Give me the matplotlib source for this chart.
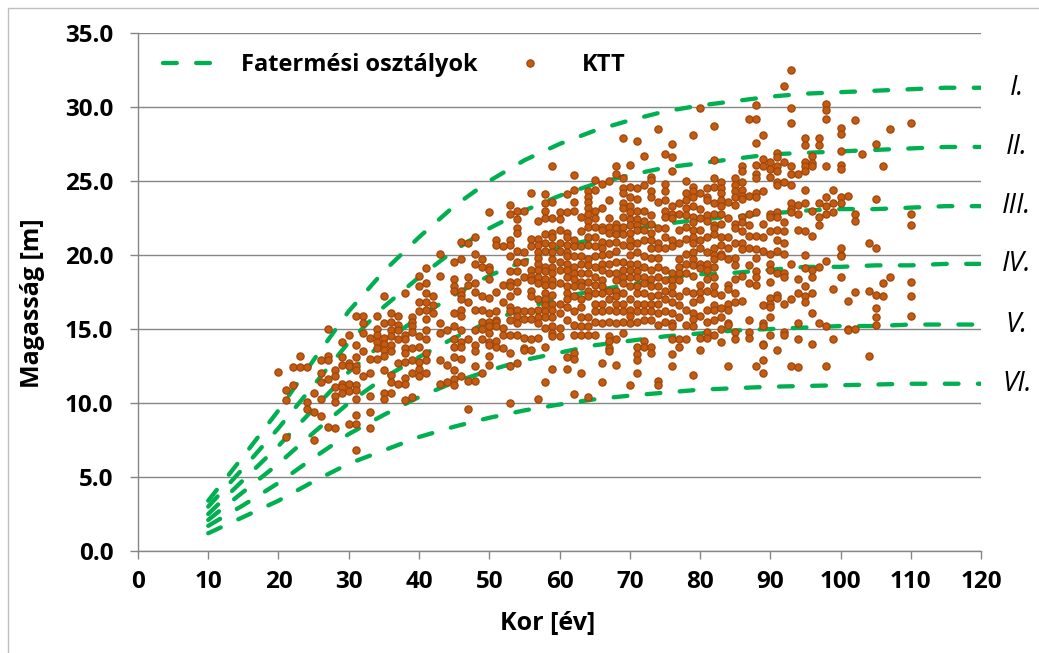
import numpy as np
import matplotlib.pyplot as plt
from matplotlib.patches import Rectangle

plt.rcParams['font.family'] = ['Open Sans', 'DejaVu Sans']

# Fatermési osztályok (I.-VI.) - magasság a kor függvényében
fk_kor = [10, 15, 20, 25, 30, 35, 40, 45, 50, 55, 60, 65, 70, 75, 80, 85, 90, 95, 100, 105, 110, 115, 120]
fk_I = [3.4, 6.4, 9.5, 12.9, 16.2, 18.9, 21.2, 23.3, 25.0, 26.4, 27.5, 28.4, 29.1, 29.7, 30.1, 30.4, 30.7, 30.9, 31.0, 31.1, 31.2, 31.3, 31.3]
fk_II = [3.0, 5.6, 8.3, 11.2, 14.1, 16.5, 18.5, 20.3, 21.8, 23.0, 24.0, 24.8, 25.4, 25.9, 26.2, 26.5, 26.8, 26.9, 27.0, 27.1, 27.2, 27.3, 27.3]
fk_III = [2.5, 4.8, 7.1, 9.6, 12.1, 14.1, 15.8, 17.3, 18.6, 19.6, 20.5, 21.1, 21.7, 22.1, 22.4, 22.6, 22.8, 23.0, 23.1, 23.1, 23.2, 23.3, 23.3]
fk_IV = [2.1, 4.0, 5.9, 8.0, 10.0, 11.7, 13.1, 14.4, 15.5, 16.4, 17.1, 17.6, 18.0, 18.4, 18.7, 18.8, 19.0, 19.2, 19.2, 19.3, 19.3, 19.4, 19.4]
fk_V = [1.7, 3.1, 4.6, 6.3, 7.9, 9.2, 10.4, 11.4, 12.2, 12.9, 13.4, 13.9, 14.2, 14.5, 14.7, 14.9, 15.0, 15.1, 15.2, 15.2, 15.3, 15.3, 15.3]
fk_VI = [1.2, 2.3, 3.4, 4.7, 5.9, 6.8, 7.7, 8.4, 9.0, 9.5, 9.9, 10.25, 10.5, 10.7, 10.9, 11.0, 11.1, 11.15, 11.2, 11.25, 11.3, 11.3, 11.3]
fk_nevek = ['I.', 'II.', 'III.', 'IV.', 'V.', 'VI.']

# KTT mérések: kor [év] és az adott korhoz tartozó magasságok [m]
ktt_kor = [20, 21, 22, 23, 24, 25, 26, 27, 28, 29,
           30, 31, 32, 33, 34, 35, 36, 37, 38, 39,
           40, 41, 42, 43, 44, 45, 46, 47, 48, 49,
           50, 51, 52, 53, 54, 55, 56, 57, 58, 59,
           60, 61, 62, 63, 64, 65, 66, 67, 68, 69,
           70, 71, 72, 73, 74, 75, 76, 77, 78, 79,
           80, 81, 82, 83, 84, 85, 86, 87, 88, 89,
           90, 91, 92, 93, 94, 95, 96, 97, 98, 99,
           100, 101, 102, 103, 104, 105, 106, 107, 110]
ktt_magassag = [
    [12.1],
    [10.9, 10.2, 7.7],
    [11.2, 12.4],
    [12.4, 13.2],
    [12.4, 10.1, 9.6],
    [10.7, 9.4, 7.5],
    [12.9, 12.0, 11.4, 10.3, 9.1],
    [15.0, 13.2, 12.9, 11.6, 8.4],
    [12.2, 11.8, 11.1, 10.5, 10.1, 8.3],
    [14.1, 13.1, 12.6, 11.3, 11.1, 10.7],
    [14.6, 12.7, 12.5, 11.3, 10.8, 8.6],
    [15.9, 13.9, 13.1, 12.5, 12.2, 11.2, 10.9, 10.3, 9.2, 8.6, 6.8],
    [15.9, 15.4, 14.7, 13.5, 11.8],
    [14.4, 13.0, 12.0, 10.5, 9.4, 8.3],
    [15.9, 15.0, 14.6, 14.1, 13.7, 13.0],
    [17.2, 15.4, 14.4, 14.0, 13.6, 13.2, 12.2, 10.7, 10.3],
    [16.1, 15.5, 14.9, 14.5, 13.9, 13.5, 11.9, 11.4, 10.7],
    [15.9, 15.3, 14.9, 14.3, 12.7, 11.3],
    [17.4, 14.6, 14.3, 13.7, 13.4, 12.8, 11.7, 11.3, 10.2],
    [15.8, 15.5, 15.2, 14.8, 13.7, 12.9, 12.0, 10.4],
    [18.6, 17.9, 16.8, 16.2, 14.5, 13.8, 12.8, 12.3, 11.8],
    [19.1, 18.1, 17.4, 16.8, 16.3, 15.7, 14.9, 14.3, 13.4, 12.9, 12.0],
    [17.2, 16.6, 16.1],
    [20.1, 18.6, 15.4, 14.7, 12.9, 11.3],
    [14.9, 12.6, 11.4],
    [19.5, 18.4, 17.9, 17.6, 16.1, 15.2, 14.3, 13.8, 13.1, 12.2, 11.6, 11.2],
    [20.9, 19.7, 17.6, 17.3, 17.0, 16.3, 15.9, 14.9, 14.1, 13.8, 13.0, 11.8],
    [20.8, 18.5, 18.0, 16.8, 14.3, 11.5, 9.6],
    [21.2, 20.1, 19.4, 18.1, 17.5, 16.3, 14.9, 13.9, 13.5, 12.5, 11.5],
    [19.7, 19.2, 17.2, 16.3, 15.5, 15.0, 14.3, 12.0],
    [22.9, 19.2, 19.0, 18.4, 17.1, 16.1, 15.5, 15.2, 14.7, 14.1, 13.9, 13.2, 12.6],
    [21.0, 20.7, 17.5, 16.2, 15.6, 15.5, 15.2, 14.2, 13.8],
    [20.6, 18.0, 16.8, 15.1, 14.6, 13.7],
    [23.4, 22.8, 21.0, 20.7, 19.9, 18.9, 18.2, 17.9, 17.2, 16.5, 16.2, 15.6, 14.6, 13.4, 12.5, 10.0],
    [23.0, 22.4, 21.8, 21.5, 20.3, 19.5, 18.9, 18.2, 17.6, 16.3, 15.9, 15.4, 14.6, 12.7],
    [23.0, 20.2, 19.5, 18.5, 16.2, 15.7, 14.4, 13.7, 13.6],
    [24.2, 21.1, 20.6, 19.0, 18.6, 18.3, 17.6, 17.2, 16.2, 15.7, 14.3, 13.6],
    [22.3, 21.1, 20.7, 20.2, 19.8, 19.4, 19.0, 18.5, 18.1, 17.0, 16.3, 15.8, 15.4, 14.4, 10.3],
    [24.1, 23.5, 23.0, 22.5, 21.4, 20.8, 20.3, 19.2, 18.9, 18.4, 18.0, 17.4, 17.0, 16.6, 16.2, 15.8, 15.1, 13.8, 11.4],
    [26.0, 23.6, 22.5, 21.5, 21.2, 20.7, 20.2, 19.7, 19.2, 18.8, 18.3, 18.0, 17.3, 16.7, 16.3, 15.8, 15.2, 14.7, 14.5, 12.3],
    [22.9, 22.4, 21.7, 20.8, 20.3, 19.5, 19.0, 18.1, 16.7, 16.1, 15.1, 14.5],
    [24.1, 22.9, 21.5, 21.2, 20.7, 20.2, 19.9, 19.4, 19.0, 18.5, 17.9, 17.4, 17.0, 16.5, 15.6, 13.1, 12.3],
    [25.4, 24.4, 23.6, 23.0, 21.0, 20.6, 19.9, 19.2, 18.8, 18.4, 17.9, 17.2, 16.2, 15.3, 14.6, 13.4, 13.0, 10.6],
    [22.6, 21.6, 20.6, 19.9, 19.4, 18.8, 18.2, 17.9, 17.0, 16.5, 15.8, 15.2, 14.6, 12.0],
    [24.3, 23.9, 23.6, 23.2, 22.8, 22.3, 21.9, 21.2, 20.7, 19.7, 19.3, 18.8, 18.2, 17.6, 17.2, 15.8, 15.2, 14.6, 10.4],
    [25.1, 24.4, 23.0, 22.5, 21.9, 21.2, 20.6, 19.9, 19.2, 18.5, 18.0, 17.4, 16.7, 16.2, 15.5, 14.6],
    [24.8, 23.2, 21.9, 21.7, 20.9, 20.5, 20.0, 19.4, 19.0, 18.3, 17.9, 17.4, 16.7, 16.2, 15.4, 12.7, 11.4],
    [25.0, 23.7, 22.5, 21.9, 21.5, 20.8, 20.1, 19.4, 18.8, 17.6, 17.0, 16.3, 15.5, 14.5, 14.2, 13.7, 13.5],
    [26.0, 25.5, 22.1, 21.8, 21.4, 20.9, 20.3, 19.5, 18.8, 18.3, 17.6, 17.2, 16.7, 16.2, 15.4, 14.3, 12.6],
    [27.9, 25.2, 24.5, 24.2, 23.5, 23.2, 22.6, 21.9, 21.4, 20.7, 19.5, 19.0, 18.5, 18.1, 17.4, 16.7, 16.2, 15.5, 14.7],
    [26.1, 24.6, 23.9, 23.3, 22.9, 22.4, 22.0, 21.5, 21.0, 20.6, 20.0, 19.4, 19.0, 18.5, 17.9, 17.0, 16.3, 15.9, 15.4, 11.2],
    [27.7, 24.5, 23.8, 23.0, 22.4, 22.0, 21.7, 20.8, 20.2, 19.4, 18.9, 18.5, 17.9, 17.4, 16.7, 16.2, 15.5, 13.8, 13.3, 12.9, 12.0],
    [26.7, 24.7, 23.0, 22.3, 21.7, 21.0, 19.9, 19.2, 18.5, 18.1, 17.4, 16.7, 16.2, 15.6, 14.2, 13.8],
    [25.3, 25.1, 24.3, 23.9, 22.7, 22.1, 21.5, 21.0, 20.5, 19.8, 19.0, 18.4, 17.9, 17.2, 16.7, 16.2, 15.6, 13.8, 13.4],
    [28.5, 23.6, 21.8, 20.8, 20.5, 19.8, 19.2, 18.5, 17.9, 17.3, 16.7, 16.1, 15.3, 11.5, 11.2],
    [26.8, 24.8, 24.3, 23.7, 23.0, 22.6, 21.8, 21.2, 20.5, 19.0, 18.3, 17.6, 17.0, 16.2, 15.5],
    [27.5, 26.6, 25.7, 23.3, 22.8, 22.5, 21.0, 20.6, 18.8, 18.3, 17.9, 17.4, 16.8, 16.1, 15.4, 15.2, 14.3, 13.3, 12.5],
    [23.5, 22.8, 21.7, 20.8, 19.7, 19.2, 18.8, 18.3, 17.2, 16.6, 15.8, 14.3, 13.8],
    [25.0, 24.2, 23.7, 23.2, 22.7, 21.9, 21.1, 20.1, 19.4, 18.8, 17.6, 16.3, 15.3, 14.3],
    [28.1, 24.6, 24.3, 23.9, 23.3, 22.6, 22.2, 21.7, 21.2, 20.8, 20.2, 19.7, 19.3, 18.6, 17.4, 16.8, 16.1, 15.7, 15.2, 11.9],
    [29.9, 24.2, 23.1, 22.5, 21.7, 21.0, 20.5, 19.4, 19.1, 18.0, 17.5, 17.0, 15.9, 14.4, 13.6],
    [24.5, 23.9, 23.7, 22.7, 22.3, 21.2, 20.2, 19.4, 19.0, 18.4, 17.6, 16.3, 15.5, 14.8, 14.4],
    [28.7, 26.4, 25.2, 24.6, 23.5, 22.8, 22.0, 21.8, 21.4, 20.5, 20.0, 19.7, 19.2, 18.5, 17.9, 17.4, 16.6, 16.3, 15.6, 14.6],
    [24.9, 24.5, 24.2, 23.7, 23.3, 22.8, 22.1, 21.2, 20.7, 20.1, 19.9, 17.3, 16.4, 15.8, 15.0, 14.1],
    [23.6, 22.5, 21.2, 20.5, 19.7, 18.0, 17.7, 16.7, 16.3, 15.4, 15.3, 12.5],
    [25.2, 24.7, 24.3, 23.9, 23.4, 22.1, 21.8, 20.8, 19.8, 19.3, 18.4, 17.4, 16.8, 14.8, 14.3],
    [26.0, 25.7, 24.9, 24.4, 24.0, 23.8, 22.6, 22.2, 21.6, 20.8, 20.4, 18.6, 16.9],
    [29.2, 24.0, 22.8, 22.0, 21.3, 20.5, 19.3, 18.1, 15.6, 14.8, 14.4],
    [30.1, 29.2, 27.6, 26.1, 25.5, 25.2, 24.2, 23.9, 22.9, 21.3, 20.4, 19.8, 18.9, 18.5, 18.0, 12.5],
    [28.1, 26.5, 26.0, 24.3, 22.1, 21.2, 20.3, 16.6, 15.4, 15.2, 14.0, 13.9, 12.9, 12.0],
    [26.3, 25.8, 25.3, 22.8, 22.6, 21.6, 20.1, 19.4, 19.0, 18.2, 17.1, 16.7, 16.5, 15.8, 14.6],
    [26.9, 26.6, 26.0, 25.7, 24.9, 24.7, 22.9, 22.6, 21.7, 21.0, 20.3, 18.8, 17.3, 17.1, 13.6],
    [31.4, 26.3, 24.9, 22.2, 21.6, 20.8, 20.1, 18.8, 18.5, 16.7, 14.8, 14.6],
    [32.5, 29.9, 28.9, 26.0, 25.5, 24.7, 23.5, 23.1, 22.9, 19.4, 17.0, 12.5],
    [25.5, 23.4, 22.8, 21.7, 18.4, 17.4, 15.4, 14.3, 12.4],
    [27.9, 27.4, 26.3, 26.0, 25.7, 24.4, 23.5, 21.6, 20.0, 19.1, 17.9, 17.2, 16.8],
    [26.7, 26.2, 26.0, 23.0, 21.3, 19.0, 18.5, 17.4, 16.1, 14.0],
    [27.9, 27.4, 23.5, 22.6, 22.0, 19.2, 15.4],
    [30.2, 29.8, 29.2, 26.0, 23.9, 23.3, 22.8, 19.6, 15.2, 12.5],
    [24.4, 23.5, 22.9, 17.7, 14.3],
    [28.6, 28.2, 27.0, 26.1, 25.8, 23.9, 23.5, 20.5, 20.0, 19.9, 18.5],
    [24.0, 16.9, 15.0, 14.9],
    [29.1, 22.8, 22.3, 17.5, 15.0],
    [26.8],
    [20.8, 17.6, 13.2],
    [27.5, 23.8, 20.5, 17.3, 16.4, 15.8, 15.3],
    [26.0, 18.1, 17.2],
    [28.5, 18.5],
    [28.9, 22.8, 22.0, 18.2, 17.2, 15.9],
]

pont_x = [k for k, hs in zip(ktt_kor, ktt_magassag) for h in hs]
pont_y = [h for hs in ktt_magassag for h in hs]

zold = '#00B050'
barna = '#C55A11'
szurke = '#868686'

fig = plt.figure(figsize=(10.39, 6.53), dpi=100)
ax = fig.add_axes([0.1328, 0.1562, 0.8114, 0.7933])

# fatermési görbék
gorbek = [fk_I, fk_II, fk_III, fk_IV, fk_V, fk_VI]
for i, g in enumerate(gorbek):
    ax.plot(fk_kor, g, color=zold, lw=3.1, dashes=(3.2, 4.5), dash_capstyle='round',
            label='Fatermési osztályok' if i == 0 else None, zorder=2)
    ax.text(125.1, g[-1], fk_nevek[i], fontsize=20, style='italic',
            ha='center', va='center', clip_on=False)

# KTT pontok
ax.plot(pont_x, pont_y, 'o', ms=5.2, mfc=barna, mec='#9E470C', mew=0.9,
        label='KTT', zorder=3)

ax.set_xlim(0, 120)
ax.set_ylim(0, 35)
ax.set_xticks(np.arange(0, 121, 10))
ax.set_yticks(np.arange(0, 35.1, 5))
ax.set_yticklabels([f'{v:.1f}' for v in np.arange(0, 35.1, 5)])

ax.yaxis.grid(True, color=szurke, lw=1.0)
ax.set_axisbelow(True)
for s in ['top', 'right']:
    ax.spines[s].set_visible(False)
for s in ['left', 'bottom']:
    ax.spines[s].set_color(szurke)
    ax.spines[s].set_linewidth(1.0)

ax.tick_params(axis='both', direction='out', length=5.8, width=1.0, color=szurke,
               labelsize=17.5)
ax.tick_params(axis='x', pad=8)
ax.tick_params(axis='y', pad=12)
for lab in ax.get_xticklabels() + ax.get_yticklabels():
    lab.set_fontweight('bold')

fig.text(548 / 1039, 1 - 623 / 653, 'Kor [év]', fontsize=18, fontweight='bold',
         ha='center', va='center')
fig.text(33 / 1039, 1 - 303 / 653, 'Magasság [m]', fontsize=18, fontweight='bold',
         ha='center', va='center', rotation=90)

leg = ax.legend(loc='center left', bbox_to_anchor=(0.0297, 0.938), ncol=2, frameon=False,
                prop={'size': 17, 'weight': 'bold'}, handlelength=2.2,
                handletextpad=1.1, columnspacing=1.1, borderpad=0, borderaxespad=0,
                numpoints=1)

# külső keret
fig.patches.append(Rectangle((8 / 1039, -0.1), 1.2, 1.1 - 8 / 653,
                             transform=fig.transFigure, fill=False,
                             edgecolor='#BFBFBF', lw=1.0))

fig.savefig('out.png', dpi=100)
